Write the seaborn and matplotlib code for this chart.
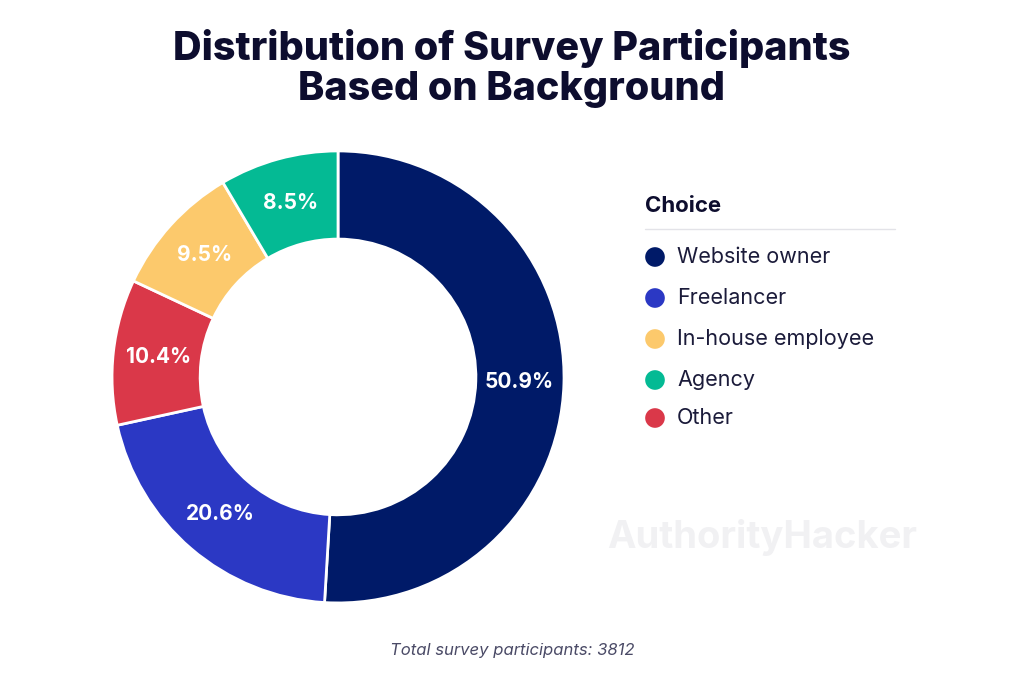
import numpy as np
import matplotlib
matplotlib.use("Agg")
import matplotlib.pyplot as plt
import seaborn as sns

# data (clockwise from 12 o'clock)
choices = ["Website owner", "Freelancer", "Other", "In-house employee", "Agency"]
shares = [50.9, 20.6, 10.4, 9.5, 8.5]
legend_order = ["Website owner", "Freelancer", "In-house employee", "Agency", "Other"]
palette = {"Website owner": "#001A68", "Freelancer": "#2B38C4",
           "In-house employee": "#FCC96C", "Agency": "#04BA94", "Other": "#DA3849"}
total_n = 3812

sns.set_theme(style="white")
plt.rcParams["font.family"] = ["Inter", "DejaVu Sans"]
INK = "#0D0D2E"

fig = plt.figure(figsize=(10.24, 6.79), dpi=100)
fig.patch.set_facecolor("white")

# watermark first so it stays behind everything
fig.text(0.744, 0.208, "AuthorityHacker", fontsize=27.5, fontweight="bold",
         color="#F1F1F3", ha="center", va="center")

ax = fig.add_axes([0.1094, 0.112, 0.4414, 0.6657])
wedges, _ = ax.pie(
    shares, colors=[palette[c] for c in choices], startangle=90, counterclock=False,
    radius=1, wedgeprops=dict(width=0.39, edgecolor="white", linewidth=2))
# labels use the reported shares (they add to 99.9, so autopct would rescale)
for w, v in zip(wedges, shares):
    mid = np.deg2rad((w.theta1 + w.theta2) / 2)
    ax.text(0.8 * np.cos(mid), 0.8 * np.sin(mid), f"{v:.1f}%", ha="center",
            va="center", color="white", fontsize=15, fontweight="bold")
ax.set_xlim(-1.0, 1.0); ax.set_ylim(-1.0, 1.0)
ax.set_aspect("auto")
ax.axis("off")

fig.text(0.5, 0.957, "Distribution of Survey Participants\nBased on Background",
         ha="center", va="top", fontsize=28.5, fontweight="heavy", color=INK,
         linespacing=1.1)

# legend
fig.text(645 / 1024, 1 - 206 / 679, "Choice", fontsize=16, fontweight="bold",
         color=INK, va="center", ha="left")
fig.add_artist(plt.Line2D([645 / 1024, 895 / 1024], [1 - 229 / 679] * 2,
                          color="#E3E3E8", lw=1))
lax = fig.add_axes([0, 0, 1, 1], facecolor="none")
lax.set_xlim(0, 1024); lax.set_ylim(679, 0); lax.axis("off")
ys = [257, 298, 339, 380, 418]
lax.scatter([655] * len(legend_order), ys, s=200,
            c=[palette[c] for c in legend_order], edgecolors="none")
for y, lab in zip(ys, legend_order):
    lax.text(677, y, lab, fontsize=15.5, color="#1B1B3A", va="center", ha="left")

fig.text(0.5, 1 - 650 / 679, f"Total survey participants: {total_n}", ha="center",
         va="center", fontsize=12, style="italic", color="#4A4A66")

fig.savefig("out.png", dpi=100, facecolor="white")
